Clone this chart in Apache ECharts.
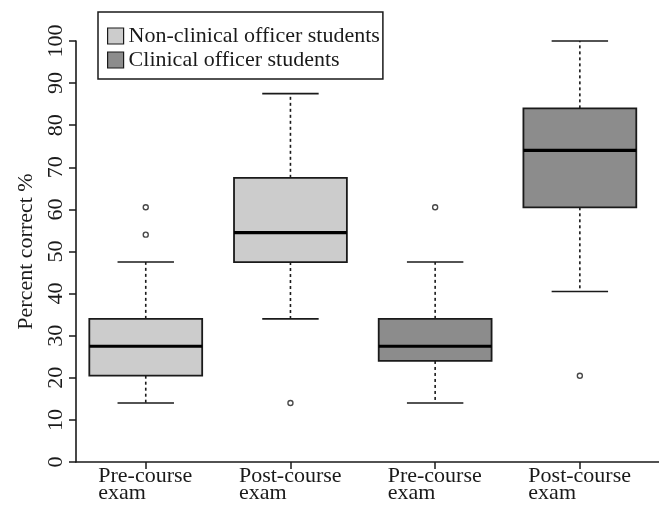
<!DOCTYPE html>
<html>
<head>
<meta charset="utf-8">
<script src="https://cdn.jsdelivr.net/npm/echarts@6/dist/echarts.min.js"></script>
<style>
  html, body { margin: 0; padding: 0; background: #fff; }
  #chart { width: 659px; height: 506px; }
</style>
</head>
<body>
<div id="chart"></div>
<script>
// Exam positions along the x axis
const categories = ['Pre-course\nexam', 'Post-course\nexam', 'Pre-course\nexam', 'Post-course\nexam'];
const groupNames = ['Non-clinical officer students', 'Clinical officer students'];

// Five-number summaries: [position, lower whisker, Q1, median, Q3, upper whisker]
const nonClinicalBoxes = [
  [0, 14, 20.5, 27.5, 34, 47.5],
  [1, 34, 47.5, 54.5, 67.5, 87.5]
];
const clinicalBoxes = [
  [2, 14, 24, 27.5, 34, 47.5],
  [3, 40.5, 60.5, 74, 84, 100]
];

// Outlying scores: [position, value]
const nonClinicalOutliers = [[0, 54], [0, 60.5], [1, 14]];
const clinicalOutliers = [[2, 60.5], [3, 20.5]];

// Percent-correct axis
const yTicks = [0, 10, 20, 30, 40, 50, 60, 70, 80, 90, 100];

const FONT = '"Liberation Serif", "Times New Roman", serif';
const INK = '#1a1a1a';

// measure the first line of each tick label so both lines can share a left edge
const ctx = document.createElement('canvas').getContext('2d');
ctx.font = '22px "Liberation Serif"';
const firstLineWidth = s => Math.ceil(ctx.measureText(s.split('\n')[0]).width);

const rich = {};
categories.forEach((c, i) => {
  rich['c' + i] = { width: firstLineWidth(c), align: 'left', fontSize: 22, lineHeight: 17, fontFamily: FONT, color: INK };
});

function renderBox(params, api) {
  const x = api.value(0);
  const lo = api.coord([x, api.value(1)]);
  const q1 = api.coord([x, api.value(2)]);
  const med = api.coord([x, api.value(3)]);
  const q3 = api.coord([x, api.value(4)]);
  const hi = api.coord([x, api.value(5)]);
  const band = api.size([1, 0])[0];
  const bw = band * 0.78;
  const cw = bw * 0.5;
  const cx = med[0];
  const dash = { stroke: INK, lineWidth: 1.6, lineDash: [3, 3] };
  const solid = { stroke: INK, lineWidth: 1.6 };
  return {
    type: 'group',
    children: [
      { type: 'line', shape: { x1: cx, y1: q3[1], x2: cx, y2: hi[1] }, style: dash },
      { type: 'line', shape: { x1: cx, y1: q1[1], x2: cx, y2: lo[1] }, style: dash },
      { type: 'line', shape: { x1: cx - cw / 2, y1: hi[1], x2: cx + cw / 2, y2: hi[1] }, style: solid },
      { type: 'line', shape: { x1: cx - cw / 2, y1: lo[1], x2: cx + cw / 2, y2: lo[1] }, style: solid },
      { type: 'rect', shape: { x: cx - bw / 2, y: q3[1], width: bw, height: q1[1] - q3[1] },
        style: { fill: api.visual('color'), stroke: INK, lineWidth: 1.8 } },
      { type: 'line', shape: { x1: cx - bw / 2, y1: med[1], x2: cx + bw / 2, y2: med[1] },
        style: { stroke: '#000', lineWidth: 3.2 } }
    ]
  };
}

const chart = echarts.init(document.getElementById('chart'), null, { renderer: 'canvas' });

const plotTop = 41, plotHeight = 421;

chart.setOption({
  animation: false,
  backgroundColor: '#fff',
  textStyle: { fontFamily: FONT },
  legend: {
    data: groupNames,
    orient: 'vertical',
    left: 98,
    top: 12,
    padding: [13, 3, 8, 9],
    itemGap: 2,
    itemWidth: 16,
    itemHeight: 16,
    icon: 'rect',
    backgroundColor: '#fff',
    borderColor: INK,
    borderWidth: 1.5,
    borderRadius: 0,
    itemStyle: { borderColor: INK, borderWidth: 1.2 },
    textStyle: { fontSize: 22, fontFamily: FONT, color: INK }
  },
  grid: [
    { left: 73.4, width: 578.8, top: plotTop, height: plotHeight },
    { left: 76, right: 0, top: plotTop, height: plotHeight }
  ],
  xAxis: [
    {
      type: 'category',
      gridIndex: 0,
      data: categories,
      axisLine: { show: false },
      axisTick: { show: true, alignWithLabel: true, length: 7, lineStyle: { color: INK, width: 1.5 } },
      axisLabel: {
        margin: 6,
        interval: 0,
        formatter: (v, i) => v.split('\n').map(s => '{c' + i + '|' + s + '}').join('\n'),
        rich: rich
      },
      splitLine: { show: false }
    },
    {
      type: 'value',
      gridIndex: 1,
      min: 0,
      max: 1,
      axisLine: { show: true, lineStyle: { color: INK, width: 1.6 } },
      axisTick: { show: false },
      axisLabel: { show: false },
      splitLine: { show: false }
    }
  ],
  yAxis: [
    {
      type: 'value',
      gridIndex: 0,
      min: 0,
      max: 100,
      show: false,
      splitLine: { show: false }
    },
    {
      type: 'value',
      gridIndex: 1,
      min: yTicks[0],
      max: yTicks[yTicks.length - 1],
      interval: yTicks[1] - yTicks[0],
      name: 'Percent correct %',
      nameLocation: 'middle',
      nameGap: 39,
      nameRotate: 90,
      nameTextStyle: { fontSize: 22, fontFamily: FONT, color: INK },
      axisLine: { show: true, lineStyle: { color: INK, width: 1.6 } },
      axisTick: { show: true, length: 7, lineStyle: { color: INK, width: 1.5 } },
      axisLabel: { rotate: 90, margin: 9, fontSize: 22, fontFamily: FONT, color: INK },
      splitLine: { show: false }
    }
  ],
  series: [
    {
      name: groupNames[0],
      type: 'custom',
      xAxisIndex: 0, yAxisIndex: 0,
      renderItem: renderBox,
      itemStyle: { color: '#cccccc' },
      encode: { x: 0, y: [1, 2, 3, 4, 5] },
      data: nonClinicalBoxes,
      z: 2
    },
    {
      name: groupNames[1],
      type: 'custom',
      xAxisIndex: 0, yAxisIndex: 0,
      renderItem: renderBox,
      itemStyle: { color: '#8c8c8c' },
      encode: { x: 0, y: [1, 2, 3, 4, 5] },
      data: clinicalBoxes,
      z: 2
    },
    {
      name: 'outliers-a',
      type: 'scatter',
      xAxisIndex: 0, yAxisIndex: 0,
      symbol: 'circle',
      symbolSize: 5,
      itemStyle: { color: '#fff', borderColor: INK, borderWidth: 1.4 },
      data: nonClinicalOutliers,
      z: 3
    },
    {
      name: 'outliers-b',
      type: 'scatter',
      xAxisIndex: 0, yAxisIndex: 0,
      symbol: 'circle',
      symbolSize: 5,
      itemStyle: { color: '#fff', borderColor: INK, borderWidth: 1.4 },
      data: clinicalOutliers,
      z: 3
    }
  ]
});
</script>
</body>
</html>
